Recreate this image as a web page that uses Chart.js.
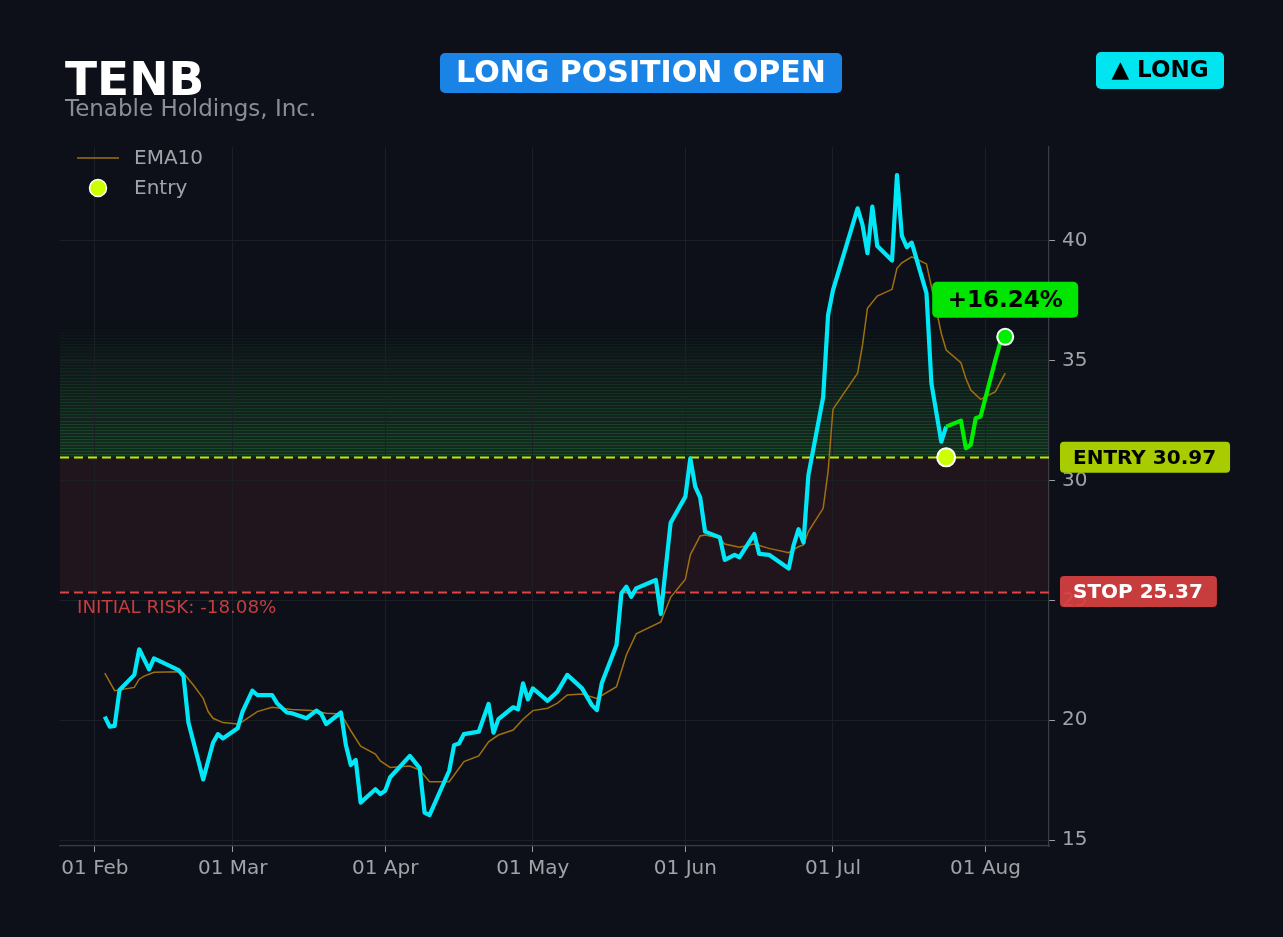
<!DOCTYPE html>
<html lang="en">
  <head>
    <meta charset="UTF-8" />
    <title>TENB Position</title>
    <script src="https://cdn.jsdelivr.net/npm/chart.js"></script>
    <style>
      html, body { margin: 0; padding: 0; background: #0d1018; }
      #wrap { width: 1283px; height: 937px; }
    </style>
  </head>
  <body>
    <div id="wrap"><canvas id="tradeChart" width="1283" height="937"></canvas></div>
    <script>
      // price closes
      const priceDates = [
        "2021-02-03", "2021-02-04", "2021-02-05", "2021-02-06", "2021-02-09", "2021-02-10", "2021-02-12", "2021-02-13",
        "2021-02-18", "2021-02-19", "2021-02-20", "2021-02-23", "2021-02-25", "2021-02-26", "2021-02-27",
        "2021-03-02", "2021-03-03", "2021-03-05", "2021-03-06", "2021-03-09", "2021-03-10", "2021-03-12", "2021-03-13",
        "2021-03-16", "2021-03-18", "2021-03-19", "2021-03-20", "2021-03-23", "2021-03-24", "2021-03-25", "2021-03-26",
        "2021-03-27", "2021-03-30", "2021-03-31",
        "2021-04-01", "2021-04-02", "2021-04-06", "2021-04-08", "2021-04-09", "2021-04-10", "2021-04-14", "2021-04-15",
        "2021-04-16", "2021-04-17", "2021-04-20", "2021-04-22", "2021-04-23", "2021-04-24", "2021-04-27", "2021-04-28",
        "2021-04-29", "2021-04-30",
        "2021-05-01", "2021-05-04", "2021-05-06", "2021-05-08", "2021-05-11", "2021-05-13", "2021-05-14", "2021-05-15",
        "2021-05-18", "2021-05-19", "2021-05-20", "2021-05-21", "2021-05-22", "2021-05-26", "2021-05-27", "2021-05-29",
        "2021-06-01", "2021-06-02", "2021-06-03", "2021-06-04", "2021-06-05", "2021-06-08", "2021-06-09", "2021-06-11",
        "2021-06-12", "2021-06-15", "2021-06-16", "2021-06-18", "2021-06-22", "2021-06-23", "2021-06-24", "2021-06-25",
        "2021-06-26", "2021-06-29", "2021-06-30",
        "2021-07-01", "2021-07-06", "2021-07-07", "2021-07-08", "2021-07-09", "2021-07-10", "2021-07-13", "2021-07-14",
        "2021-07-15", "2021-07-16", "2021-07-17", "2021-07-20", "2021-07-21", "2021-07-23", "2021-07-24", "2021-07-27",
        "2021-07-28", "2021-07-29", "2021-07-30", "2021-07-31",
        "2021-08-03", "2021-08-04", "2021-08-05",
      ];
      const priceValues = [
        20.15, 19.73, 19.76, 21.26, 21.89, 22.96, 22.12, 22.58,
        22.09, 21.84, 19.9, 17.53, 19.06, 19.42, 19.24,
        19.66, 20.36, 21.23, 21.05, 21.05, 20.71, 20.32, 20.29,
        20.08, 20.4, 20.26, 19.84, 20.32, 18.96, 18.13, 18.34,
        16.56, 17.12, 16.92,
        17.06, 17.62, 18.51, 18.0, 16.14, 16.04, 17.89, 18.96,
        19.03, 19.42, 19.52, 20.68, 19.48, 20.04, 20.54, 20.45,
        21.54, 20.87,
        21.33, 20.81, 21.19, 21.89, 21.33, 20.63, 20.42, 21.54,
        23.14, 25.3, 25.57, 25.15, 25.5, 25.85, 24.43, 28.24,
        29.33, 30.93, 29.75, 29.3, 27.87, 27.63, 26.69, 26.9,
        26.8, 27.77, 26.94, 26.9, 26.33, 27.31, 27.97, 27.41,
        30.23, 33.48, 36.91,
        37.95, 41.36, 40.67, 39.49, 41.43, 39.79, 39.18, 42.75,
        40.21, 39.74, 39.93, 37.82, 34.06, 31.62, 32.25, 32.5,
        31.35, 31.49, 32.6, 32.67,
        35.03, 35.76, 36.0,
      ];

      const emaDates = [
        "2021-02-03", "2021-02-05", "2021-02-09", "2021-02-10", "2021-02-11", "2021-02-13", "2021-02-18", "2021-02-19",
        "2021-02-21", "2021-02-23", "2021-02-24", "2021-02-25", "2021-02-27",
        "2021-03-02", "2021-03-03", "2021-03-06", "2021-03-09", "2021-03-13", "2021-03-17", "2021-03-20", "2021-03-23",
        "2021-03-25", "2021-03-27", "2021-03-30", "2021-03-31",
        "2021-04-02", "2021-04-06", "2021-04-08", "2021-04-10", "2021-04-14", "2021-04-17", "2021-04-20", "2021-04-22",
        "2021-04-24", "2021-04-27", "2021-04-29",
        "2021-05-01", "2021-05-04", "2021-05-06", "2021-05-08", "2021-05-11", "2021-05-14", "2021-05-18", "2021-05-20",
        "2021-05-22", "2021-05-27", "2021-05-29",
        "2021-06-01", "2021-06-02", "2021-06-04", "2021-06-05", "2021-06-08", "2021-06-09", "2021-06-12", "2021-06-15",
        "2021-06-18", "2021-06-22", "2021-06-24", "2021-06-25", "2021-06-26", "2021-06-29", "2021-06-30",
        "2021-07-01", "2021-07-06", "2021-07-07", "2021-07-08", "2021-07-10", "2021-07-13", "2021-07-14", "2021-07-15",
        "2021-07-17", "2021-07-20", "2021-07-21", "2021-07-23", "2021-07-24", "2021-07-27", "2021-07-28", "2021-07-29",
        "2021-07-31",
        "2021-08-03", "2021-08-05",
      ];
      const emaValues = [
        21.96, 21.23, 21.37, 21.71, 21.84, 22.0, 22.02, 21.96,
        21.47, 20.91, 20.36, 20.08, 19.9,
        19.84, 19.94, 20.36, 20.54, 20.45, 20.4, 20.29, 20.26,
        19.56, 18.92, 18.59, 18.3,
        18.03, 18.09, 17.92, 17.43, 17.43, 18.27, 18.51, 19.1,
        19.38, 19.59, 20.04,
        20.4, 20.5, 20.71, 21.05, 21.09, 20.91, 21.4, 22.72,
        23.6, 24.1, 25.13,
        25.88, 26.9, 27.69, 27.73, 27.59, 27.35, 27.22, 27.35,
        27.17, 26.99, 27.24, 27.31, 27.87, 28.84, 30.37,
        32.98, 34.48, 35.66, 37.19, 37.7, 37.98, 38.86, 39.09,
        39.34, 39.04, 38.09, 36.15, 35.45, 34.92, 34.27, 33.78,
        33.39,
        33.71, 34.48,
      ];

      const monthTickDates = ["2021-02-01", "2021-03-01", "2021-04-01", "2021-05-01", "2021-06-01", "2021-07-01", "2021-08-01"];
      const monthTickLabels = ["01 Feb", "01 Mar", "01 Apr", "01 May", "01 Jun", "01 Jul", "01 Aug"];
      const priceTicks = [15, 20, 25, 30, 35, 40];

      const ticker = "TENB";
      const companyName = "Tenable Holdings, Inc.";
      const entryDate = "2021-07-24";
      const entryPrice = 30.97;
      const stopPrice = 25.37;

      // days since 01 Feb
      function dayOf(s) {
        const [y, m, d] = s.split("-").map(Number);
        return (Date.UTC(y, m - 1, d) - Date.UTC(2021, 1, 1)) / 86400000;
      }

      const lastPrice = priceValues[priceValues.length - 1];
      const gainPct = ((lastPrice - entryPrice) / entryPrice) * 100;
      const riskPct = ((stopPrice - entryPrice) / entryPrice) * 100;

      const pricePoints = priceDates.map((d, i) => ({ x: dayOf(d), y: priceValues[i] }));
      const entryX = dayOf(entryDate);
      const beforeEntry = pricePoints.filter((p) => p.x <= entryX);
      const afterEntry = pricePoints.filter((p) => p.x >= entryX);
      const emaPoints = emaDates.map((d, i) => ({ x: dayOf(d), y: emaValues[i] }));

      const FONT = "'DejaVu Sans', sans-serif";
      const BG = "#0d1018";
      const GREEN_TOP = 36.6;

      function pill(ctx, x, y, w, h, r, fill) {
        ctx.beginPath();
        ctx.moveTo(x + r, y);
        ctx.arcTo(x + w, y, x + w, y + h, r);
        ctx.arcTo(x + w, y + h, x, y + h, r);
        ctx.arcTo(x, y + h, x, y, r);
        ctx.arcTo(x, y, x + w, y, r);
        ctx.closePath();
        ctx.fillStyle = fill;
        ctx.fill();
      }

      const backdrop = {
        id: "backdrop",
        beforeDraw(chart) {
          const { ctx, chartArea: a, scales } = chart;
          const y = scales.y;
          ctx.save();
          ctx.fillStyle = BG;
          ctx.fillRect(0, 0, chart.width, chart.height);

          // risk zone
          const yE = y.getPixelForValue(entryPrice);
          const yS = y.getPixelForValue(stopPrice);
          ctx.fillStyle = "rgba(113,46,48,0.2)";
          ctx.fillRect(a.left, yE, a.right - a.left, yS - yE);

          // profit zone, striped fade
          const yT = y.getPixelForValue(GREEN_TOP);
          const n = 44;
          const h = (yE - yT) / n;
          for (let i = 0; i < n; i++) {
            const f = 1 - i / n;
            const top = yE - (i + 1) * h;
            ctx.fillStyle = `rgba(50,170,70,${0.19 * f})`;
            ctx.fillRect(a.left, top, a.right - a.left, h);
            ctx.fillStyle = `rgba(50,170,70,${0.26 * f})`;
            ctx.fillRect(a.left, Math.round(top), a.right - a.left, 1);
          }
          ctx.restore();
        },
        beforeDatasetsDraw(chart) {
          const { ctx, chartArea: a, scales } = chart;
          const y = scales.y;
          ctx.save();
          ctx.lineWidth = 2;
          ctx.setLineDash([9, 5]);
          [[entryPrice, "#c6e600"], [stopPrice, "#e04444"]].forEach(([v, c]) => {
            const py = Math.round(y.getPixelForValue(v)) + 0.5;
            ctx.strokeStyle = c;
            ctx.beginPath();
            ctx.moveTo(a.left, py);
            ctx.lineTo(a.right, py);
            ctx.stroke();
          });
          ctx.restore();
        },
        afterDraw(chart) {
          const { ctx, chartArea: a, scales } = chart;
          const x = scales.x, y = scales.y;
          ctx.save();
          ctx.textBaseline = "alphabetic";
          ctx.textAlign = "left";

          // header
          ctx.fillStyle = "#ffffff";
          ctx.font = `bold 47px ${FONT}`;
          ctx.fillText(ticker, 65, 95);
          ctx.fillStyle = "#8b8e94";
          ctx.font = `23px ${FONT}`;
          ctx.fillText(companyName, 65, 116);

          ctx.textAlign = "center";
          ctx.textBaseline = "middle";
          pill(ctx, 440, 53, 402, 40, 5, "#1a84e6");
          ctx.fillStyle = "#ffffff";
          ctx.font = `bold 30px ${FONT}`;
          ctx.fillText("LONG POSITION OPEN", 641, 74);

          pill(ctx, 1096, 52, 128, 37, 5, "#00e5f0");
          ctx.fillStyle = "#000000";
          ctx.font = `bold 23px ${FONT}`;
          ctx.fillText("\u25B2 LONG", 1160, 71);

          // legend
          ctx.textAlign = "left";
          ctx.strokeStyle = "#a0700f";
          ctx.lineWidth = 1.5;
          ctx.beginPath();
          ctx.moveTo(77, 158);
          ctx.lineTo(119, 158);
          ctx.stroke();
          ctx.beginPath();
          ctx.arc(98, 188, 8.5, 0, Math.PI * 2);
          ctx.fillStyle = "#ccff00";
          ctx.fill();
          ctx.strokeStyle = "#ffffff";
          ctx.lineWidth = 1.5;
          ctx.stroke();
          ctx.fillStyle = "#a0a3a8";
          ctx.font = `20px ${FONT}`;
          ctx.fillText("EMA10", 134, 159);
          ctx.fillText("Entry", 134, 189);

          // risk text
          ctx.fillStyle = "#c53d3f";
          ctx.font = `18.3px ${FONT}`;
          ctx.fillText(`INITIAL RISK: ${riskPct.toFixed(2)}%`, a.left + 17, y.getPixelForValue(stopPrice) + 17);

          // level tags
          ctx.font = `bold 20px ${FONT}`;
          const tag = (txt, v, fill, color) => {
            const w = ctx.measureText(txt).width + 27;
            const py = y.getPixelForValue(v);
            pill(ctx, 1060, py - 15.5, w, 31, 4, fill);
            ctx.fillStyle = color;
            ctx.fillText(txt, 1073, py + 1);
          };
          tag(`ENTRY ${entryPrice.toFixed(2)}`, entryPrice, "#a8cc00", "#000000");
          tag(`STOP ${stopPrice.toFixed(2)}`, stopPrice, "rgba(214,64,64,0.93)", "#ffffff");

          // gain tag above last point
          const lx = x.getPixelForValue(pricePoints[pricePoints.length - 1].x);
          const ly = y.getPixelForValue(lastPrice);
          ctx.font = `bold 23px ${FONT}`;
          ctx.textAlign = "center";
          pill(ctx, lx - 73, ly - 55, 146, 36, 5, "#00e600");
          ctx.fillStyle = "#000000";
          ctx.fillText(`+${gainPct.toFixed(2)}%`, lx, ly - 36);
          ctx.restore();
        },
      };

      new Chart(document.getElementById("tradeChart").getContext("2d"), {
        type: "line",
        data: {
          datasets: [
            {
              label: "Entry",
              data: [{ x: entryX, y: entryPrice }],
              showLine: false,
              pointRadius: 9,
              pointBackgroundColor: "#ccff00",
              pointBorderColor: "#ffffff",
              pointBorderWidth: 2,
            },
            {
              label: "Last",
              data: [pricePoints[pricePoints.length - 1]],
              showLine: false,
              pointRadius: 8,
              pointBackgroundColor: "#00ee00",
              pointBorderColor: "#ffffff",
              pointBorderWidth: 2,
            },
            {
              label: "Since entry",
              data: afterEntry,
              borderColor: "#00ee00",
              borderWidth: 4.2,
              borderJoinStyle: "round",
              pointRadius: 0,
              tension: 0,
            },
            {
              label: "Price",
              data: beforeEntry,
              borderColor: "#00e8f8",
              borderWidth: 4.2,
              borderJoinStyle: "round",
              pointRadius: 0,
              tension: 0,
            },
            {
              label: "EMA10",
              data: emaPoints,
              borderColor: "#a0700f",
              borderWidth: 1.5,
              pointRadius: 0,
              tension: 0,
            },
          ],
        },
        options: {
          responsive: false,
          animation: false,
          devicePixelRatio: 1,
          layout: { padding: { left: 60, top: 147, right: 0, bottom: 51 } },
          plugins: { legend: { display: false }, tooltip: { enabled: false } },
          scales: {
            x: {
              type: "linear",
              min: -7.1,
              max: 193.9,
              afterBuildTicks: (s) => {
                s.ticks = monthTickDates.map((d) => ({ value: dayOf(d) }));
              },
              afterFit: (s) => {
                s.height = 40;
              },
              ticks: {
                color: "#a0a3a8",
                font: { family: FONT, size: 20 },
                padding: 5,
                maxRotation: 0,
                callback: (v) => monthTickLabels[monthTickDates.findIndex((d) => dayOf(d) === v)],
              },
              grid: { color: "#1c1f26", tickColor: "#9a9da2", tickLength: 6 },
              border: { color: "#3a3d44", width: 1.2 },
            },
            y: {
              position: "right",
              min: 14.75,
              max: 43.92,
              afterBuildTicks: (s) => {
                s.ticks = priceTicks.map((v) => ({ value: v }));
              },
              afterFit: (s) => {
                s.width = 234;
              },
              ticks: {
                color: "#a0a3a8",
                font: { family: FONT, size: 20 },
                padding: 7,
              },
              grid: { color: "#1c1f26", tickColor: "#9a9da2", tickLength: 6 },
              border: { color: "#3a3d44", width: 1.2 },
            },
          },
        },
        plugins: [backdrop],
      });
    </script>
  </body>
</html>
